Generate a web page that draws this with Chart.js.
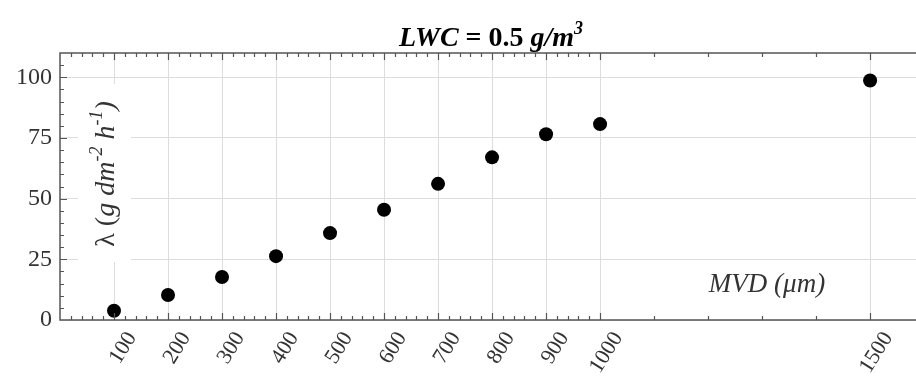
<!DOCTYPE html>
<html>
<head>
<meta charset="utf-8">
<script src="https://cdn.jsdelivr.net/npm/chart.js@4"></script>
<style>
  html, body { margin: 0; padding: 0; background: #fff; }
  #wrap { width: 916px; height: 379px; }
</style>
</head>
<body>
<div id="wrap"><canvas id="lwcChart"></canvas></div>
<script>
// MVD (um) vs lambda, LWC = 0.5 g/m3
const mvd = [100, 200, 300, 400, 500, 600, 700, 800, 900, 1000, 1500];
const lambda = [3.8, 10.3, 17.7, 26.3, 35.8, 45.4, 56.1, 67.0, 76.5, 80.7, 98.7];
const xTicks = [100, 200, 300, 400, 500, 600, 700, 800, 900, 1000, 1500];
const yTicks = [0, 25, 50, 75, 100];

const SERIF = '"Liberation Serif", "Times New Roman", serif';

// draw a run of text pieces (for superscripts), centred on x
function drawRich(ctx, parts, x, y) {
    let w = 0;
    parts.forEach(p => { ctx.font = p.font; w += ctx.measureText(p.t).width; });
    let cx = x - w / 2;
    parts.forEach(p => {
        ctx.font = p.font;
        ctx.fillText(p.t, cx, y + (p.dy || 0));
        cx += ctx.measureText(p.t).width;
    });
    return w;
}

const framePlugin = {
    id: 'framePlugin',
    afterDatasetsDraw(chart) {
        const ctx = chart.ctx;
        const a = chart.chartArea;
        const xs = chart.scales.x, ys = chart.scales.y;
        ctx.save();

        // frame (right side is off the picture)
        ctx.strokeStyle = '#555';
        ctx.lineWidth = 1.5;
        ctx.beginPath();
        ctx.moveTo(a.right + 2, a.bottom);
        ctx.lineTo(a.left, a.bottom);
        ctx.lineTo(a.left, a.top);
        ctx.lineTo(a.right + 2, a.top);
        ctx.stroke();

        // inward ticks
        ctx.lineWidth = 1.2;
        const xMinor = [];
        for (let v = 20; v < 1000; v += 20) if (v % 100) xMinor.push(v);
        [1100, 1200, 1300, 1400].forEach(v => xMinor.push(v));
        const tick = (x1, y1, x2, y2) => { ctx.moveTo(x1, y1); ctx.lineTo(x2, y2); };
        ctx.beginPath();
        xMinor.forEach(v => {
            const px = Math.round(xs.getPixelForValue(v)) + 0.5;
            tick(px, a.bottom, px, a.bottom - 4);
            tick(px, a.top, px, a.top + 4);
        });
        xTicks.forEach(v => {
            const px = Math.round(xs.getPixelForValue(v)) + 0.5;
            tick(px, a.bottom, px, a.bottom - 7);
            tick(px, a.top, px, a.top + 7);
        });
        for (let v = 5; v < 110; v += 5) {
            const py = Math.round(ys.getPixelForValue(v)) + 0.5;
            const len = v % 25 ? 4 : 7;
            tick(a.left, py, a.left + len, py);
        }
        ctx.stroke();

        // title
        ctx.fillStyle = '#000';
        ctx.textBaseline = 'alphabetic';
        drawRich(ctx, [
            { t: 'LWC', font: 'italic bold 28px ' + SERIF },
            { t: ' = 0.5 ', font: 'bold 28px ' + SERIF },
            { t: 'g/m', font: 'italic bold 28px ' + SERIF },
            { t: '3', font: 'italic bold 18px ' + SERIF, dy: -12 }
        ], 491, 46);

        // x axis title inside the plot
        ctx.fillStyle = '#333';
        drawRich(ctx, [
            { t: 'MVD (', font: 'italic 27px ' + SERIF },
            { t: 'μ', font: 'italic 27px ' + SERIF },
            { t: 'm)', font: 'italic 27px ' + SERIF }
        ], 767, 292);

        // y axis title, rotated, with white box hiding the grid
        ctx.fillStyle = '#fff';
        ctx.fillRect(78, 84, 53, 178);
        ctx.translate(114, 174);
        ctx.rotate(-Math.PI / 2);
        ctx.fillStyle = '#333';
        drawRich(ctx, [
            { t: 'λ (', font: '28px ' + SERIF },
            { t: 'g dm', font: 'italic 28px ' + SERIF },
            { t: '-2', font: 'italic 18px ' + SERIF, dy: -12 },
            { t: ' h', font: 'italic 28px ' + SERIF },
            { t: '-1', font: 'italic 18px ' + SERIF, dy: -12 },
            { t: ')', font: 'italic 28px ' + SERIF }
        ], 0, 0);
        ctx.restore();
    }
};

new Chart(document.getElementById('lwcChart'), {
    type: 'scatter',
    data: {
        datasets: [{
            label: 'lambda',
            data: mvd.map((m, i) => ({ x: m, y: lambda[i] })),
            backgroundColor: '#000',
            borderWidth: 0,
            pointRadius: 7,
            pointHoverRadius: 7
        }]
    },
    options: {
        responsive: true,
        maintainAspectRatio: false,
        animation: false,
        layout: { autoPadding: false, padding: { top: 53, right: 0, left: 0, bottom: 0 } },
        plugins: {
            legend: { display: false },
            tooltip: { enabled: false }
        },
        scales: {
            x: {
                type: 'linear',
                min: 0,
                max: 1585,
                afterBuildTicks: s => { s.ticks = xTicks.map(v => ({ value: v })); },
                afterFit: s => { s.height = 59; s.paddingLeft = 0; s.paddingRight = 0; },
                grid: { color: '#ddd', lineWidth: 1, drawTicks: false },
                border: { display: false },
                ticks: {
                    font: { family: SERIF, size: 22 },
                    color: '#333',
                    minRotation: 58,
                    maxRotation: 58,
                    labelOffset: 18,
                    padding: 7,
                    callback: v => String(v)
                }
            },
            y: {
                min: 0,
                max: 110,
                afterBuildTicks: s => { s.ticks = yTicks.map(v => ({ value: v })); },
                afterFit: s => { s.width = 60; s.paddingTop = 0; s.paddingBottom = 0; },
                grid: { color: '#ddd', lineWidth: 1, drawTicks: false },
                border: { display: false },
                ticks: {
                    font: { family: SERIF, size: 24 },
                    color: '#333',
                    padding: 8
                }
            }
        }
    },
    plugins: [framePlugin]
});
</script>
</body>
</html>
